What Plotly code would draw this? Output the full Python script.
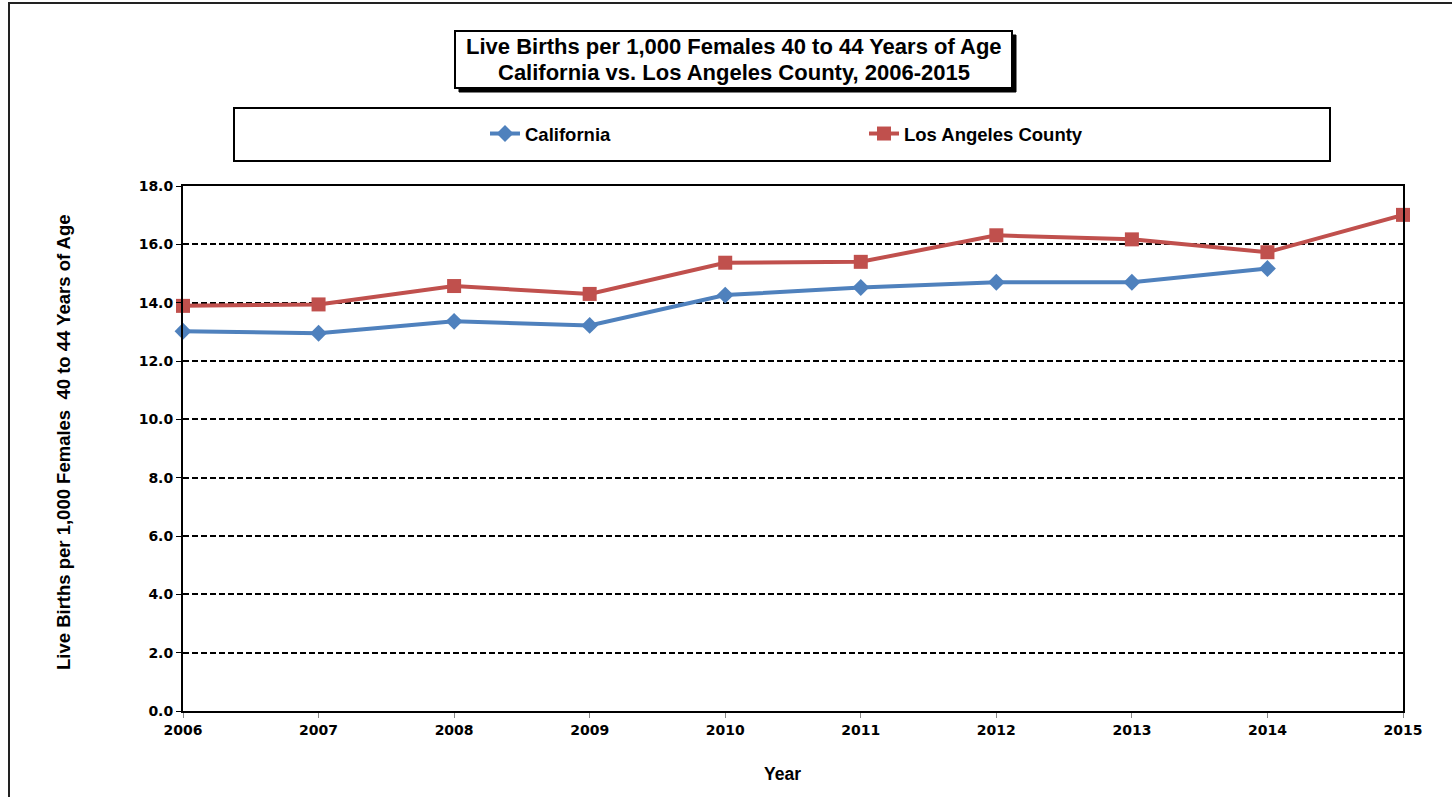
import plotly.graph_objects as go

years = [2006, 2007, 2008, 2009, 2010, 2011, 2012, 2013, 2014, 2015]
california = [13.02, 12.95, 13.36, 13.22, 14.26, 14.52, 14.70, 14.70, 15.17, None]
los_angeles = [13.89, 13.94, 14.57, 14.30, 15.37, 15.40, 16.31, 16.17, 15.73, 17.01]
y_ticks = [0, 2, 4, 6, 8, 10, 12, 14, 16, 18]

FONT = "Liberation Sans, Arial, sans-serif"
TICKFONT = "DejaVu Sans, Verdana, sans-serif"
W, H = 1452, 797
L, R, T, B = 183, 1403, 186, 711
pw, ph = R - L, B - T


def px(x):
    return (x - L) / pw


def py(y):
    return (B - y) / ph


fig = go.Figure()
fig.add_trace(go.Scatter(
    x=years, y=california, name="California", mode="lines+markers",
    line=dict(color="#4F81BD", width=4),
    marker=dict(symbol="diamond", size=13, color="#4F81BD"),
    cliponaxis=False,
))
fig.add_trace(go.Scatter(
    x=years, y=los_angeles, name="Los Angeles County", mode="lines+markers",
    line=dict(color="#C0504D", width=4),
    marker=dict(symbol="square", size=14, color="#C0504D"),
    cliponaxis=False,
))

shapes = [
    # outer chart border
    dict(type="rect", xref="paper", yref="paper", x0=px(9), x1=px(1470), y0=py(820), y1=py(3),
         line=dict(color="#222222", width=2), layer="below"),
    # title shadow
    dict(type="rect", xref="paper", yref="paper", x0=px(459), x1=px(1016), y0=py(92), y1=py(35),
         line=dict(color="black", width=1), fillcolor="black", layer="below"),
    # title box
    dict(type="rect", xref="paper", yref="paper", x0=px(455), x1=px(1012), y0=py(88), y1=py(31),
         line=dict(color="black", width=2), fillcolor="white", layer="below"),
    # legend box
    dict(type="rect", xref="paper", yref="paper", x0=px(234), x1=px(1330), y0=py(161), y1=py(108),
         line=dict(color="black", width=2), fillcolor="white", layer="below"),
]

annotations = [
    dict(text="<b>Live Births per 1,000 Females 40 to 44 Years of Age</b>",
         xref="paper", yref="paper", x=px(733.5), y=py(46), xanchor="center", yanchor="middle",
         showarrow=False, font=dict(family=FONT, size=22, color="black")),
    dict(text="<b>California vs. Los Angeles County, 2006-2015</b>",
         xref="paper", yref="paper", x=px(733.5), y=py(72), xanchor="center", yanchor="middle",
         showarrow=False, font=dict(family=FONT, size=22, color="black")),
    dict(text="<b>Live Births per 1,000 Females  40 to 44 Years of Age</b>",
         xref="paper", yref="paper", x=px(63), y=py(442), xanchor="center", yanchor="middle",
         textangle=-90, showarrow=False, font=dict(family=FONT, size=18.5, color="black")),
    dict(text="<b>Year</b>",
         xref="paper", yref="paper", x=px(782), y=py(774), xanchor="center", yanchor="middle",
         showarrow=False, font=dict(family=FONT, size=17.5, color="black")),
]

fig.update_layout(
    width=W, height=H,
    margin=dict(l=L, r=W - R, t=T, b=H - B),
    paper_bgcolor="white", plot_bgcolor="white",
    font=dict(family=FONT, color="black"),
    shapes=shapes, annotations=annotations,
    showlegend=True,
    legend=dict(orientation="h", xref="paper", yref="paper", x=px(485), y=py(134),
                xanchor="left", yanchor="middle", bgcolor="rgba(0,0,0,0)",
                entrywidth=334, entrywidthmode="pixels",
                font=dict(family=FONT, size=18.5, color="black", weight="bold")),
)

fig.update_xaxes(
    range=[2006, 2015], tickvals=years, ticktext=[str(y) for y in years],
    showgrid=False, zeroline=False,
    showline=True, linecolor="black", linewidth=2, mirror=True,
    ticks="outside", ticklen=5, tickcolor="#888888",
    tickfont=dict(family=TICKFONT, size=14, color="black", weight="bold"),
)
fig.update_yaxes(
    range=[0, 18], tickvals=y_ticks, ticktext=[f"{v:.1f}" for v in y_ticks],
    showgrid=True, gridcolor="black", gridwidth=1.5, griddash="6px,3px",
    zeroline=False,
    showline=True, linecolor="black", linewidth=2, mirror=True,
    ticks="outside", ticklen=5, tickcolor="black",
    tickfont=dict(family=TICKFONT, size=14, color="black", weight="bold"),
)

fig.write_html("out.html", config={"displayModeBar": False},
               post_script="document.body.style.margin='0px';document.body.style.overflow='hidden';")
